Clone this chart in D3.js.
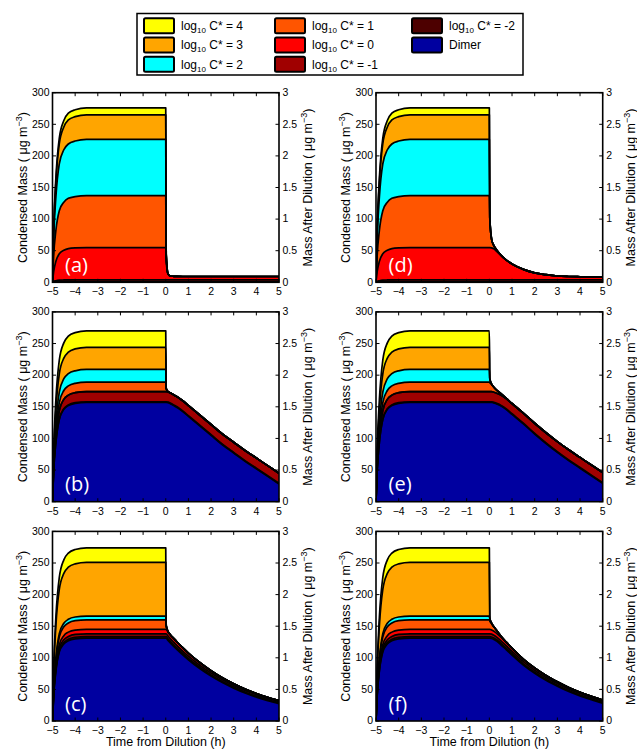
<!DOCTYPE html>
<html><head><meta charset="utf-8">
<script src="https://cdn.jsdelivr.net/npm/d3@7"></script>
<style>body{margin:0;background:#fff} svg{display:block}</style>
</head><body><svg id="c" width="637" height="749"></svg>
<script>
// ---------------- DATA ----------------
const timePre  = [-5, -4.95, -4.85, -4.7, -4.5, -4.3, -4.0, -3.5, -2, 0];
const timePost = [0.02, 0.1, 0.2, 0.35, 0.5, 0.75, 1, 1.5, 2, 2.5, 3, 3.5, 4, 4.5, 5];

const speciesKeys   = ["dimer", "m2", "m1", "c0", "c1", "c2", "c3", "c4"];
const speciesColors = ["#0000a0", "#4d0000", "#a00000", "#ff0000", "#ff5500", "#00ffff", "#ffa500", "#ffff00"];
const legendCStar   = ["4", "3", "2", "1", "0", "-1", "-2"];
const legendKeys    = ["c4", "c3", "c2", "c1", "c0", "m1", "m2", "dimer"];

const xTicks      = [-5, -4, -3, -2, -1, 0, 1, 2, 3, 4, 5];
const xTickLabels = ["\u22125", "\u22124", "\u22123", "\u22122", "\u22121", "0", "1", "2", "3", "4", "5"];
const yTicksLeft  = [0, 50, 100, 150, 200, 250, 300];
const yTicksRight = [0, 0.5, 1, 1.5, 2, 2.5, 3];
const yRightLabels = ["0", "0.5", "1", "1.5", "2", "2.5", "3"];
const panelLetters = ["(a)", "(b)", "(c)", "(d)", "(e)", "(f)"];

// Pre-dilution growth (left axis units): group A -> panels a,d ; B -> b,e ; C -> c,f
const preA_dimer = [0, 0, 0, 0, 0, 0, 0, 0, 0, 0];
const preA_m2    = [0, 0.5, 0.9, 1.2, 1.4, 1.45, 1.5, 1.5, 1.5, 1.5];
const preA_m1    = [0, 0.8, 1.5, 2.1, 2.3, 2.4, 2.5, 2.5, 2.5, 2.5];
const preA_c0    = [0, 15, 31, 42, 47, 49.5, 50.5, 51, 51, 51];
const preA_c1    = [0, 25, 49, 68, 76, 79.5, 81, 82, 82, 82];
const preA_c2    = [0, 27, 53, 74, 83, 86, 88, 89, 89, 89];
const preA_c3    = [0, 12, 23, 32, 36, 38, 38.6, 39, 39, 39];
const preA_c4    = [0, 3, 7, 9, 10.2, 10.7, 10.9, 11, 11, 11];

const preB_dimer = [0, 47, 94, 130, 146, 152, 155.5, 157, 157, 157];
const preB_m2    = [0, 0.3, 0.6, 0.8, 0.9, 1, 1, 1, 1, 1];
const preB_m1    = [0, 5, 9.6, 13.3, 14.9, 15.5, 15.8, 16, 16, 16];
const preB_c0    = [0, 0, 0, 0, 0, 0, 0, 0, 0, 0];
const preB_c1    = [0, 4.5, 9, 12.5, 14, 14.5, 14.8, 15, 15, 15];
const preB_c2    = [0, 6, 12, 16.6, 18.6, 19.4, 19.8, 20, 20, 20];
const preB_c3    = [0, 10.5, 21, 29, 32.5, 34, 34.6, 35, 35, 35];
const preB_c4    = [0, 7.8, 15.6, 21.6, 24.2, 25.2, 25.7, 26, 26, 26];

const preC_dimer = [0, 39, 79, 109, 122, 127, 130, 131, 131, 131];
const preC_m2    = [0, 0.8, 1.5, 2.1, 2.3, 2.4, 2.5, 2.5, 2.5, 2.5];
const preC_m1    = [0, 1.4, 2.7, 3.7, 4.2, 4.4, 4.5, 4.5, 4.5, 4.5];
const preC_c0    = [0, 2.1, 4.2, 5.8, 6.5, 6.8, 6.9, 7, 7, 7];
const preC_c1    = [0, 4.5, 9, 12.5, 14, 14.5, 14.8, 15, 15, 15];
const preC_c2    = [0, 1.8, 3.6, 5, 5.6, 5.8, 5.9, 6, 6, 6];
const preC_c3    = [0, 25, 51, 70, 79, 82.5, 84, 85, 85, 85];
const preC_c4    = [0, 7, 14, 19, 21.4, 22.3, 22.8, 23, 23, 23];

// Post-dilution (plotted in left-axis units; right axis = /100)
const postA_dimer = [0, 0, 0, 0, 0, 0, 0, 0, 0, 0, 0, 0, 0, 0, 0];
const postA_m2    = [1.5, 1.5, 1.5, 1.5, 1.5, 1.5, 1.5, 1.5, 1.5, 1.5, 1.5, 1.5, 1.5, 1.5, 1.5];
const postA_m1    = [2.5, 2.5, 2.5, 2.5, 2.5, 2.5, 2.5, 2.5, 2.5, 2.5, 2.5, 2.5, 2.5, 2.5, 2.5];
const postA_c0    = [30, 9, 6, 5.5, 5.3, 5.2, 5.2, 5.2, 5.2, 5.2, 5.2, 5.2, 5.2, 5.2, 5.2];
const postA_c1    = [8, 0.5, 0, 0, 0, 0, 0, 0, 0, 0, 0, 0, 0, 0, 0];
const postA_c2    = [2, 0, 0, 0, 0, 0, 0, 0, 0, 0, 0, 0, 0, 0, 0];
const postA_c3    = [0.5, 0, 0, 0, 0, 0, 0, 0, 0, 0, 0, 0, 0, 0, 0];
const postA_c4    = [0.2, 0, 0, 0, 0, 0, 0, 0, 0, 0, 0, 0, 0, 0, 0];

const postD_dimer = [0, 0, 0, 0, 0, 0, 0, 0, 0, 0, 0, 0, 0, 0, 0];
const postD_m2    = [1.5, 1.5, 1.5, 1.5, 1.5, 1.5, 1.5, 1.5, 1.5, 1.5, 1.5, 1.5, 1.5, 1.5, 1.5];
const postD_m1    = [2.5, 2.5, 2.5, 2.5, 2.5, 2.5, 2.5, 2.5, 2.5, 2.5, 2.5, 2.5, 2.5, 2.5, 2.5];
const postD_c0    = [51, 50.5, 49, 44, 39, 31, 25, 16.5, 11, 8, 6, 5.2, 4.8, 4.5, 4.3];
const postD_c1    = [45, 13.5, 5, 2, 0.5, 0, 0, 0, 0, 0, 0, 0, 0, 0, 0];
const postD_c2    = [2, 0, 0, 0, 0, 0, 0, 0, 0, 0, 0, 0, 0, 0, 0];
const postD_c3    = [0.5, 0, 0, 0, 0, 0, 0, 0, 0, 0, 0, 0, 0, 0, 0];
const postD_c4    = [0.2, 0, 0, 0, 0, 0, 0, 0, 0, 0, 0, 0, 0, 0, 0];

const postB_dimer = [157, 156.5, 155, 152, 149, 142.5, 135, 120, 105, 90, 77, 64, 52, 40, 28];
const postB_m2    = [1, 1, 1, 1, 1, 1, 1, 1, 1, 1, 1, 1, 1, 1, 1];
const postB_m1    = [16, 16, 16, 16, 16, 16, 16, 16, 16, 16, 16, 16, 16, 16, 16];
const postB_c0    = [0, 0, 0, 0, 0, 0, 0, 0, 0, 0, 0, 0, 0, 0, 0];
const postB_c1    = [4, 0.5, 0, 0, 0, 0, 0, 0, 0, 0, 0, 0, 0, 0, 0];
const postB_c2    = [1, 0, 0, 0, 0, 0, 0, 0, 0, 0, 0, 0, 0, 0, 0];
const postB_c3    = [0.3, 0, 0, 0, 0, 0, 0, 0, 0, 0, 0, 0, 0, 0, 0];
const postB_c4    = [0.2, 0, 0, 0, 0, 0, 0, 0, 0, 0, 0, 0, 0, 0, 0];

const postE_dimer = [157, 157, 156, 154, 151.5, 145.5, 138, 123, 107, 92, 78, 65, 53, 41, 29];
const postE_m2    = [1, 1, 1, 1, 1, 1, 1, 1, 1, 1, 1, 1, 1, 1, 1];
const postE_m1    = [16, 16, 16, 16, 16, 16, 16, 16, 16, 16, 16, 16, 16, 16, 16];
const postE_c0    = [0, 0, 0, 0, 0, 0, 0, 0, 0, 0, 0, 0, 0, 0, 0];
const postE_c1    = [14, 11, 8, 4.5, 2.5, 0.8, 0.2, 0, 0, 0, 0, 0, 0, 0, 0];
const postE_c2    = [6, 1, 0, 0, 0, 0, 0, 0, 0, 0, 0, 0, 0, 0, 0];
const postE_c3    = [0.5, 0, 0, 0, 0, 0, 0, 0, 0, 0, 0, 0, 0, 0, 0];
const postE_c4    = [0.3, 0, 0, 0, 0, 0, 0, 0, 0, 0, 0, 0, 0, 0, 0];

const postC_dimer = [131, 127.5, 123.6, 118.2, 113, 104.7, 96.9, 83, 71.1, 60.8, 52, 44.3, 37.8, 32.2, 27.4];
const postC_m2    = [2.5, 2.5, 2.4, 2.4, 2.3, 2.2, 2.1, 2, 1.9, 1.8, 1.7, 1.6, 1.5, 1.4, 1.3];
const postC_m1    = [4.5, 4.4, 4.3, 4.1, 4, 3.8, 3.6, 3.3, 3, 2.8, 2.6, 2.4, 2.2, 2, 1.9];
const postC_c0    = [7, 6.6, 6.3, 6, 5.7, 5.3, 4.9, 4.2, 3.6, 3.1, 2.7, 2.4, 2.1, 1.9, 1.7];
const postC_c1    = [5, 0.5, 0, 0, 0, 0, 0, 0, 0, 0, 0, 0, 0, 0, 0];
const postC_c2    = [1, 0, 0, 0, 0, 0, 0, 0, 0, 0, 0, 0, 0, 0, 0];
const postC_c3    = [0.5, 0, 0, 0, 0, 0, 0, 0, 0, 0, 0, 0, 0, 0, 0];
const postC_c4    = [0.2, 0, 0, 0, 0, 0, 0, 0, 0, 0, 0, 0, 0, 0, 0];

const postF_dimer = [131, 130.5, 129, 125.5, 121, 112.7, 104.4, 88.5, 75.5, 64.3, 55, 46.6, 39.7, 33.7, 28.1];
const postF_m2    = [2.5, 2.5, 2.4, 2.4, 2.3, 2.2, 2.1, 2, 1.9, 1.8, 1.7, 1.6, 1.5, 1.4, 1.3];
const postF_m1    = [4.5, 4.4, 4.3, 4.1, 4, 3.8, 3.6, 3.3, 3, 2.8, 2.6, 2.4, 2.2, 2, 1.9];
const postF_c0    = [7, 6.6, 6.3, 6, 5.7, 5.3, 4.9, 4.2, 3.6, 3.1, 2.7, 2.4, 2.1, 1.9, 1.7];
const postF_c1    = [13, 10, 7, 4, 2, 0.7, 0.2, 0, 0, 0, 0, 0, 0, 0, 0];
const postF_c2    = [4, 1, 0, 0, 0, 0, 0, 0, 0, 0, 0, 0, 0, 0, 0];
const postF_c3    = [0.5, 0, 0, 0, 0, 0, 0, 0, 0, 0, 0, 0, 0, 0, 0];
const postF_c4    = [0.3, 0, 0, 0, 0, 0, 0, 0, 0, 0, 0, 0, 0, 0, 0];

// ---------------- ASSEMBLY ----------------
const pre = {
  A: [preA_dimer, preA_m2, preA_m1, preA_c0, preA_c1, preA_c2, preA_c3, preA_c4],
  B: [preB_dimer, preB_m2, preB_m1, preB_c0, preB_c1, preB_c2, preB_c3, preB_c4],
  C: [preC_dimer, preC_m2, preC_m1, preC_c0, preC_c1, preC_c2, preC_c3, preC_c4]
};
const post = {
  a: [postA_dimer, postA_m2, postA_m1, postA_c0, postA_c1, postA_c2, postA_c3, postA_c4],
  b: [postB_dimer, postB_m2, postB_m1, postB_c0, postB_c1, postB_c2, postB_c3, postB_c4],
  c: [postC_dimer, postC_m2, postC_m1, postC_c0, postC_c1, postC_c2, postC_c3, postC_c4],
  d: [postD_dimer, postD_m2, postD_m1, postD_c0, postD_c1, postD_c2, postD_c3, postD_c4],
  e: [postE_dimer, postE_m2, postE_m1, postE_c0, postE_c1, postE_c2, postE_c3, postE_c4],
  f: [postF_dimer, postF_m2, postF_m1, postF_c0, postF_c1, postF_c2, postF_c3, postF_c4]
};
const time = timePre.concat(timePost);

const panels = [
  {id: "a", pre: "A", col: 0, row: 0},
  {id: "b", pre: "B", col: 0, row: 1},
  {id: "c", pre: "C", col: 0, row: 2},
  {id: "d", pre: "A", col: 1, row: 0},
  {id: "e", pre: "B", col: 1, row: 1},
  {id: "f", pre: "C", col: 1, row: 2}
];

// ---------------- LAYOUT ----------------
const colX = [[52.5, 279], [376, 602.7]];
const rowY = [[92.7, 282.3], [311.9, 501.7], [531.4, 721]];
const FONT = "'Liberation Sans', Arial, Helvetica, sans-serif";

const svg = d3.select("#c");
svg.append("rect").attr("width", 637).attr("height", 749).attr("fill", "#fff");
const defs = svg.append("defs");

panels.forEach((p, pi) => {
  const [x0, x1] = colX[p.col];
  const [y0, y1] = rowY[p.row];
  const x = d3.scaleLinear().domain([-5, 5]).range([x0, x1]);
  const y = d3.scaleLinear().domain([0, 300]).range([y1, y0]);
  const yR = d3.scaleLinear().domain([0, 3]).range([y1, y0]);

  const series = pre[p.pre].map((arr, k) => arr.concat(post[p.id][k]));
  const rows = time.map((t, i) => {
    const r = {t};
    speciesKeys.forEach((key, k) => { r[key] = series[k][i]; });
    return r;
  });
  const stacked = d3.stack().keys(speciesKeys)(rows);

  const cid = "clip" + p.id;
  defs.append("clipPath").attr("id", cid).append("rect")
    .attr("x", x0).attr("y", y0).attr("width", x1 - x0).attr("height", y1 - y0);

  const g = svg.append("g");
  const gp = g.append("g").attr("clip-path", `url(#${cid})`);
  const area = d3.area().x(d => x(d.data.t)).y0(d => y(d[0])).y1(d => y(d[1])).curve(d3.curveMonotoneX);
  const line = d3.line().x(d => x(d.data.t)).y(d => y(d[1])).curve(d3.curveMonotoneX);

  gp.selectAll("path.area").data(stacked).join("path")
    .attr("class", "area")
    .attr("d", area)
    .attr("fill", (d, k) => speciesColors[k]);
  gp.selectAll("path.edge").data(stacked).join("path")
    .attr("class", "edge")
    .attr("d", line)
    .attr("fill", "none").attr("stroke", "#000").attr("stroke-width", 1.7)
    .attr("stroke-linejoin", "round");

  // panel letter
  g.append("text").attr("x", x0 + 12.5).attr("y", y1 - 10.5)
    .attr("fill", "#fff").attr("font-family", "'Open Sans', sans-serif")
    .attr("font-size", 20).text(panelLetters[pi]);

  // frame
  g.append("rect").attr("x", x0).attr("y", y0).attr("width", x1 - x0).attr("height", y1 - y0)
    .attr("fill", "none").attr("stroke", "#000").attr("stroke-width", 1.6);

  const tl = 3.5;
  // x ticks
  xTicks.forEach((v, i) => {
    g.append("line").attr("x1", x(v)).attr("x2", x(v)).attr("y1", y1).attr("y2", y1 - tl).attr("stroke", "#000");
    g.append("line").attr("x1", x(v)).attr("x2", x(v)).attr("y1", y0).attr("y2", y0 + tl).attr("stroke", "#000");
    g.append("text").attr("x", x(v)).attr("y", y1 + 13).attr("text-anchor", "middle")
      .attr("font-family", FONT).attr("font-size", 10.5).text(xTickLabels[i]);
  });
  // y ticks left
  yTicksLeft.forEach(v => {
    g.append("line").attr("x1", x0).attr("x2", x0 + tl).attr("y1", y(v)).attr("y2", y(v)).attr("stroke", "#000");
    g.append("text").attr("x", x0 - 3).attr("y", y(v) + 3.3).attr("text-anchor", "end")
      .attr("font-family", FONT).attr("font-size", 10.5).text(v);
  });
  // y ticks right
  yTicksRight.forEach((v, i) => {
    g.append("line").attr("x1", x1).attr("x2", x1 - tl).attr("y1", yR(v)).attr("y2", yR(v)).attr("stroke", "#000");
    g.append("text").attr("x", x1 + 3.5).attr("y", yR(v) + 3.3).attr("text-anchor", "start")
      .attr("font-family", FONT).attr("font-size", 10.5).text(yRightLabels[i]);
  });

  // axis titles
  const cy = (y0 + y1) / 2;
  const addYTitle = (cx, main) => {
    const t = g.append("text").attr("transform", `translate(${cx},${cy}) rotate(-90)`)
      .attr("text-anchor", "middle").attr("font-family", FONT).attr("font-size", 12.5);
    t.append("tspan").text(main + " ( \u03bcg m");
    t.append("tspan").attr("dy", -5).attr("font-size", 9).text("\u22123");
    t.append("tspan").attr("dy", 5).text(")");
  };
  addYTitle(x0 - 26, "Condensed Mass");
  addYTitle(x1 + 32.5, "Mass After Dilution");

  if (p.row === 2) {
    g.append("text").attr("x", (x0 + x1) / 2).attr("y", y1 + 24.5)
      .attr("text-anchor", "middle").attr("font-family", FONT).attr("font-size", 12.5)
      .text("Time from Dilution (h)");
  }
});

// ---------------- LEGEND ----------------
const lg = svg.append("g");
lg.append("rect").attr("x", 137).attr("y", 13.5).attr("width", 386).attr("height", 61.5)
  .attr("fill", "#fff").attr("stroke", "#000").attr("stroke-width", 1.5);
const colSw = [144, 275, 412];
const rowCy = [25.7, 45, 64.3];
legendKeys.forEach((key, i) => {
  const c = Math.floor(i / 3), r = i % 3;
  const k = speciesKeys.indexOf(key);
  lg.append("rect").attr("x", colSw[c]).attr("y", rowCy[r] - 7.5).attr("width", 30).attr("height", 15)
    .attr("rx", 1.5).attr("fill", speciesColors[k]).attr("stroke", "#000").attr("stroke-width", 2);
  const t = lg.append("text").attr("x", colSw[c] + 37).attr("y", rowCy[r] + 4.3)
    .attr("font-family", FONT).attr("font-size", 12);
  if (key === "dimer") {
    t.text("Dimer");
  } else {
    t.append("tspan").text("log");
    t.append("tspan").attr("dy", 3).attr("font-size", 8).text("10");
    t.append("tspan").attr("dy", -3).text(" C* = " + legendCStar[i]);
  }
});
</script></body></html>
